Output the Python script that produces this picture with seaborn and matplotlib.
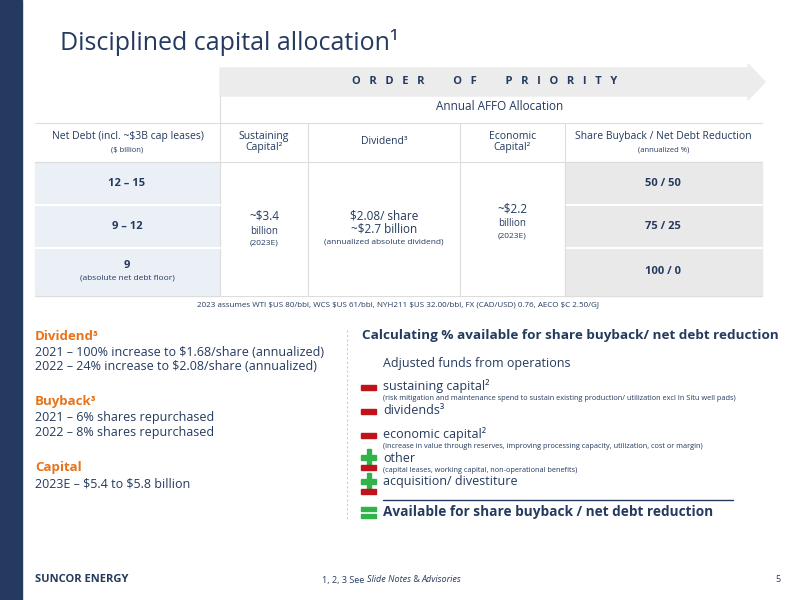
import matplotlib
matplotlib.use("Agg")
import matplotlib.pyplot as plt
import seaborn as sns
from matplotlib.patches import Rectangle, Polygon

sns.set_theme(style="white")
plt.rcParams['font.family'] = ['Open Sans', 'DejaVu Sans']

NAVY = "#243a5e"
ORANGE = "#e8731a"
RED = "#c0141c"
GREEN = "#2fb34a"

# table content
col_edges = [35, 220, 308, 460, 565, 762]
headers = ["Net Debt (incl. ~$3B cap leases)", "Sustaining\nCapital²", "Dividend³",
           "Economic\nCapital²", "Share Buyback / Net Debt Reduction"]
header_subs = ["($ billion)", "", "", "", "(annualized %)"]
row_edges = [162, 205, 248, 296]
net_debt = ["12 – 15", "9 – 12", "9"]
net_debt_sub = ["", "", "(absolute net debt floor)"]
split = ["50 / 50", "75 / 25", "100 / 0"]
sustaining = ["~$3.4", "billion", "(2023E)"]
dividend = ["$2.08/ share", "~$2.7 billion", "(annualized absolute dividend)"]
economic = ["~$2.2", "billion", "(2023E)"]

left_blocks = [
    ("Dividend³", ["2021 – 100% increase to $1.68/share (annualized)",
                   "2022 – 24% increase to $2.08/share (annualized)"]),
    ("Buyback³", ["2021 – 6% shares repurchased", "2022 – 8% shares repurchased"]),
    ("Capital", ["2023E – $5.4 to $5.8 billion"]),
]
calc_items = [
    ("-", "sustaining capital²",
     "(risk mitigation and maintenance spend to sustain existing production/ utilization excl In Situ well pads)"),
    ("-", "dividends³", ""),
    ("-", "economic capital²",
     "(increase in value through reserves, improving processing capacity, utilization, cost or margin)"),
    ("+-", "other", "(capital leases, working capital, non-operational benefits)"),
    ("+-", "acquisition/ divestiture", ""),
]
footer_parts = [("1, 2, 3 See ", "normal"), ("Slide Notes", "italic"), (" & ", "normal"),
                ("Advisories", "italic")]

fig = plt.figure(figsize=(8, 6), dpi=100)
ax = fig.add_axes([0, 0, 1, 1])
ax.set_xlim(0, 800)
ax.set_ylim(600, 0)
ax.axis("off")


def txt(x, y, s, **kw):
    kw.setdefault("color", NAVY)
    kw.setdefault("va", "center")
    return ax.text(x, y, s, parse_math=False, **kw)


ax.add_patch(Rectangle((0, 0), 22, 600, color=NAVY))
txt(60, 42, "Disciplined capital allocation¹", fontsize=18)

# order of priority arrow
ax.add_patch(Polygon([(220, 68), (748, 68), (748, 64), (765, 82), (748, 100), (748, 96), (220, 96)],
                     closed=True, color="#ececec"))
txt(485, 82, "O   R   D   E   R          O   F          P   R   I   O   R   I   T   Y",
    ha="center", fontsize=8, fontweight="bold")
ax.plot([220, 220], [96, 296], color="#dddddd", lw=0.8)
txt(500, 106, "Annual AFFO Allocation", ha="center", fontsize=8.5)

# table
ax.add_patch(Rectangle((35, 162), 185, 134, color="#eaf0f6"))
ax.add_patch(Rectangle((565, 162), 197, 134, color="#e9e9e9"))
for y in [123, 162, 296]:
    ax.plot([35, 762], [y, y], color="#dddddd", lw=0.8)
for y in row_edges[1:-1]:
    ax.plot([35, 220], [y, y], color="white", lw=1.5)
    ax.plot([565, 762], [y, y], color="white", lw=1.5)
for x in col_edges[2:-1]:
    ax.plot([x, x], [123, 296], color="#dddddd", lw=0.8)
for i, (h, s) in enumerate(zip(headers, header_subs)):
    cx = (col_edges[i] + col_edges[i + 1]) / 2
    txt(cx, 142 if s == "" else 137, h, ha="center", fontsize=7.5, linespacing=1.1)
    if s:
        txt(cx, 150, s, ha="center", fontsize=5.5)
for i in range(3):
    cy = (row_edges[i] + row_edges[i + 1]) / 2
    txt(127, cy - (6 if net_debt_sub[i] else 0), net_debt[i], ha="center",
        fontsize=8, fontweight="bold")
    if net_debt_sub[i]:
        txt(127, cy + 6, net_debt_sub[i], ha="center", fontsize=6)
    txt(663, cy, split[i], ha="center", fontsize=8, fontweight="bold")
for cx, lines, ys, sizes in [(264, sustaining, [216, 231, 243], [8.5, 7, 6]),
                             (384, dividend, [216, 229, 242], [8.5, 8.5, 6]),
                             (512, economic, [209, 224, 236], [8.5, 7, 6])]:
    for s, yy, fs in zip(lines, ys, sizes):
        txt(cx, yy, s, ha="center", fontsize=fs)
txt(398, 305, "2023 assumes WTI $US 80/bbl, WCS $US 61/bbl, NYH211 $US 32.00/bbl, FX (CAD/USD) 0.76, AECO $C 2.50/GJ",
    ha="center", fontsize=5.8)

# left text blocks
y = 336
for title, lines in left_blocks:
    txt(35, y, title, fontsize=9.5, fontweight="bold", color=ORANGE)
    for j, line in enumerate(lines):
        txt(35, y + 16 + 14.5 * j, line, fontsize=9)
    y += 66
ax.plot([347, 347], [330, 520], color="#cccccc", lw=0.8, ls=(0, (2, 2)))

# calculation list
txt(362, 335, "Calculating % available for share buyback/ net debt reduction",
    fontsize=9.7, fontweight="bold")
txt(383, 364, "Adjusted funds from operations", fontsize=9)
ys = [386, 410, 434, 458, 482]
for (sign, label, sub), yy in zip(calc_items, ys):
    txt(383, yy, label, fontsize=9)
    if sub:
        txt(383, yy + 12, sub, fontsize=5.3)
    if sign == "-":
        ax.add_patch(Rectangle((361, yy - 1), 15, 4.5, color=RED))
    else:
        ax.add_patch(Rectangle((361, yy - 3), 15, 4.5, color=GREEN))
        ax.add_patch(Rectangle((366.5, yy - 9), 4.5, 16, color=GREEN))
        ax.add_patch(Rectangle((361, yy + 7), 15, 4.5, color=RED))
ax.plot([383, 733], [500, 500], color=NAVY, lw=1)
ax.add_patch(Rectangle((361, 507), 15, 4, color=GREEN))
ax.add_patch(Rectangle((361, 514), 15, 4, color=GREEN))
txt(383, 512, "Available for share buyback / net debt reduction", fontsize=9.8, fontweight="bold")

# footer
txt(35, 580, "SUNCOR ENERGY", fontsize=8, fontweight="bold")
prev = txt(322, 580, footer_parts[0][0], fontsize=6.5)
for s, st in footer_parts[1:]:
    prev = ax.annotate(s, xy=(1, 0.5), xycoords=prev, va="center", ha="left", fontsize=6.5,
                       style=st, color=NAVY, parse_math=False)
txt(778, 580, "5", fontsize=6.5, ha="center")

fig.savefig("out.png", dpi=100)
